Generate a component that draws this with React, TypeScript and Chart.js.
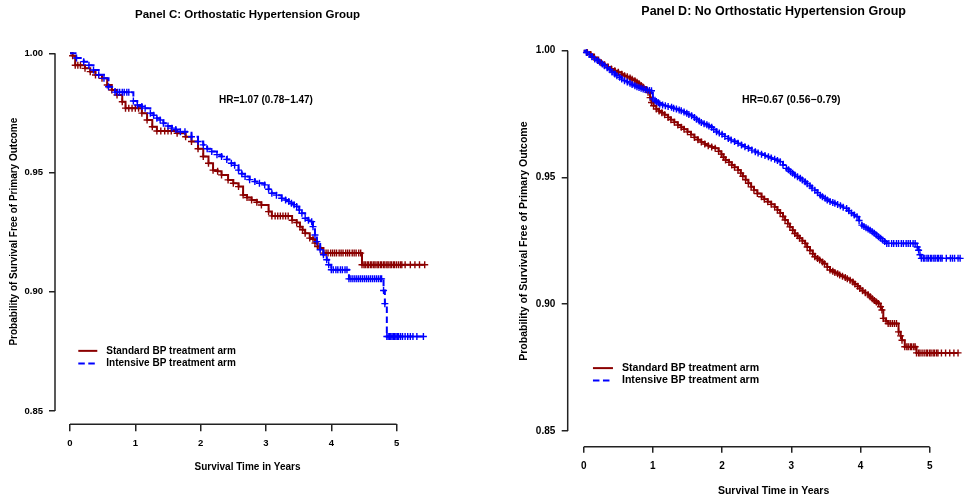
import React, { useEffect, useRef } from 'react';
import { Chart, registerables } from 'chart.js';

Chart.register(...registerables);

// ---------------- data ----------------
const xTickValues = [0, 1, 2, 3, 4, 5];
const yTickValues = [0.85, 0.9, 0.95, 1.0];

const seriesLabels = ['Standard BP treatment arm', 'Intensive BP treatment arm'];
const panelTitles = ['Panel C: Orthostatic Hypertension Group', 'Panel D: No Orthostatic Hypertension Group'];
const hrLabels = ['HR=1.07 (0.78\u22121.47)', 'HR=0.67 (0.56\u22120.79)'];
const xAxisTitle = 'Survival Time in Years';
const yAxisTitle = 'Probability of Survival Free of Primary Outcome';

// [time in years, survival probability]; each point carries a censoring mark
// Panel C – standard arm
const cStandard: [number, number][] = [
  [0, 1.0], [0.04, 0.999], [0.08, 0.995], [0.12, 0.995], [0.16, 0.995], [0.23, 0.9937], [0.31, 0.9923],
  [0.39, 0.9909], [0.49, 0.9895], [0.57, 0.9867], [0.64, 0.9846], [0.72, 0.9825], [0.8, 0.9797],
  [0.85, 0.977], [0.9, 0.977], [0.95, 0.977], [1.0, 0.977], [1.05, 0.977], [1.1, 0.9749], [1.18, 0.972],
  [1.26, 0.9692], [1.33, 0.9674], [1.39, 0.9674], [1.45, 0.9674], [1.5, 0.9674], [1.55, 0.9674],
  [1.64, 0.9665], [1.77, 0.965], [1.86, 0.963], [1.96, 0.96], [2.04, 0.9567], [2.12, 0.9539],
  [2.19, 0.951], [2.26, 0.9505], [2.32, 0.949], [2.42, 0.9469], [2.5, 0.9455], [2.58, 0.9441],
  [2.65, 0.9406], [2.71, 0.9395], [2.78, 0.9385], [2.86, 0.9375], [2.93, 0.9364], [3.04, 0.9336],
  [3.09, 0.9318], [3.14, 0.9318], [3.18, 0.9318], [3.22, 0.9318], [3.26, 0.9318], [3.3, 0.9318],
  [3.34, 0.9318], [3.4, 0.93], [3.47, 0.929], [3.52, 0.9273], [3.56, 0.926], [3.6, 0.9245],
  [3.67, 0.9225], [3.72, 0.922], [3.75, 0.9204], [3.79, 0.919], [3.83, 0.9183], [3.88, 0.9162],
  [3.92, 0.9162], [3.95, 0.9162], [3.99, 0.9162], [4.02, 0.9162], [4.05, 0.9162], [4.08, 0.9162],
  [4.12, 0.9162], [4.15, 0.9162], [4.18, 0.9162], [4.22, 0.9162], [4.25, 0.9162], [4.28, 0.9162],
  [4.32, 0.9162], [4.35, 0.9162], [4.38, 0.9162], [4.42, 0.9162], [4.45, 0.9162], [4.47, 0.9113],
  [4.5, 0.9113], [4.52, 0.9113], [4.55, 0.9113], [4.57, 0.9113], [4.6, 0.9113], [4.62, 0.9113],
  [4.65, 0.9113], [4.67, 0.9113], [4.7, 0.9113], [4.72, 0.9113], [4.75, 0.9113], [4.77, 0.9113],
  [4.8, 0.9113], [4.82, 0.9113], [4.85, 0.9113], [4.87, 0.9113], [4.9, 0.9113], [4.92, 0.9113],
  [4.95, 0.9113], [4.97, 0.9113], [5.0, 0.9113], [5.03, 0.9113], [5.06, 0.9113], [5.08, 0.9113],
  [5.13, 0.9113], [5.21, 0.9113], [5.28, 0.9113], [5.35, 0.9113], [5.43, 0.9113],
];

// Panel C – intensive arm
const cIntensive: [number, number][] = [
  [0, 1.0], [0.1, 0.998], [0.21, 0.9965], [0.29, 0.995], [0.36, 0.993], [0.44, 0.991], [0.52, 0.9895],
  [0.59, 0.986], [0.69, 0.9837], [0.73, 0.9837], [0.76, 0.9837], [0.8, 0.9837], [0.83, 0.9837],
  [0.87, 0.9837], [0.9, 0.9837], [0.97, 0.98], [1.03, 0.9783], [1.1, 0.9777], [1.15, 0.977],
  [1.23, 0.9749], [1.28, 0.974], [1.33, 0.9728], [1.38, 0.972], [1.43, 0.9707], [1.5, 0.9695],
  [1.56, 0.9686], [1.62, 0.968], [1.69, 0.9671], [1.76, 0.9671], [1.86, 0.965], [1.96, 0.963],
  [2.04, 0.9616], [2.1, 0.96], [2.17, 0.9588], [2.25, 0.9575], [2.32, 0.9567], [2.4, 0.9555],
  [2.47, 0.9539], [2.52, 0.953], [2.58, 0.951], [2.63, 0.9495], [2.68, 0.9483], [2.75, 0.947],
  [2.83, 0.9462], [2.9, 0.9455], [2.98, 0.9448], [3.04, 0.943], [3.09, 0.9413], [3.16, 0.9405],
  [3.24, 0.9392], [3.3, 0.9385], [3.35, 0.9378], [3.39, 0.9371], [3.43, 0.9365], [3.47, 0.9357],
  [3.51, 0.9343], [3.55, 0.9329], [3.6, 0.9308], [3.65, 0.93], [3.7, 0.9294], [3.72, 0.9273],
  [3.75, 0.9238], [3.78, 0.921], [3.83, 0.9176], [3.88, 0.9155], [3.93, 0.9134], [3.96, 0.9113],
  [4.0, 0.9092], [4.03, 0.9092], [4.07, 0.9092], [4.1, 0.9092], [4.14, 0.9092], [4.17, 0.9092],
  [4.21, 0.9092], [4.24, 0.9092], [4.27, 0.9054], [4.3, 0.9054], [4.33, 0.9054], [4.36, 0.9054],
  [4.39, 0.9054], [4.42, 0.9054], [4.45, 0.9054], [4.48, 0.9054], [4.51, 0.9054], [4.54, 0.9054],
  [4.57, 0.9054], [4.6, 0.9054], [4.63, 0.9054], [4.66, 0.9054], [4.69, 0.9054], [4.72, 0.9054],
  [4.75, 0.9054], [4.77, 0.9054], [4.8, 0.9005], [4.82, 0.895], [4.85, 0.8812], [4.87, 0.8812],
  [4.89, 0.8812], [4.91, 0.8812], [4.93, 0.8812], [4.95, 0.8812], [4.97, 0.8812], [4.99, 0.8812],
  [5.01, 0.8812], [5.03, 0.8812], [5.06, 0.8812], [5.09, 0.8812], [5.13, 0.8812], [5.17, 0.8812],
  [5.21, 0.8812], [5.25, 0.8812], [5.31, 0.8812], [5.41, 0.8812],
];

// Panel D – standard arm
const dStandard: [number, number][] = [
  [0, 1.0], [0.05, 0.9993], [0.1, 0.9985], [0.15, 0.9973], [0.21, 0.9961], [0.25, 0.9953], [0.3, 0.9945],
  [0.35, 0.9936], [0.4, 0.9928], [0.45, 0.9921], [0.5, 0.9915], [0.55, 0.9907], [0.59, 0.9901],
  [0.63, 0.9897], [0.67, 0.9892], [0.7, 0.9887], [0.74, 0.9882], [0.77, 0.9876], [0.8, 0.987],
  [0.83, 0.9863], [0.86, 0.9856], [0.9, 0.9846], [0.93, 0.9836], [0.96, 0.9815], [0.98, 0.9796],
  [1.01, 0.9783], [1.05, 0.977], [1.09, 0.9762], [1.13, 0.9755], [1.17, 0.9747], [1.22, 0.9737],
  [1.26, 0.9728], [1.31, 0.9718], [1.36, 0.9707], [1.41, 0.9698], [1.45, 0.969], [1.5, 0.968],
  [1.55, 0.9669], [1.6, 0.9658], [1.65, 0.9649], [1.7, 0.964], [1.75, 0.9632], [1.8, 0.9625],
  [1.85, 0.962], [1.9, 0.9615], [1.95, 0.9603], [1.99, 0.9592], [2.02, 0.958], [2.05, 0.9569],
  [2.1, 0.956], [2.14, 0.9549], [2.18, 0.954], [2.23, 0.9529], [2.27, 0.9517], [2.3, 0.9505],
  [2.34, 0.9491], [2.38, 0.9477], [2.42, 0.9463], [2.46, 0.945], [2.51, 0.9437], [2.57, 0.9424],
  [2.61, 0.9414], [2.66, 0.9404], [2.71, 0.9394], [2.76, 0.9384], [2.8, 0.9372], [2.84, 0.936],
  [2.88, 0.9346], [2.91, 0.9332], [2.95, 0.9318], [2.98, 0.9305], [3.02, 0.9292], [3.05, 0.9279],
  [3.09, 0.927], [3.12, 0.926], [3.16, 0.925], [3.2, 0.924], [3.23, 0.9226], [3.27, 0.9212],
  [3.31, 0.9199], [3.34, 0.9187], [3.38, 0.918], [3.41, 0.9174], [3.45, 0.9167], [3.48, 0.916],
  [3.52, 0.9147], [3.56, 0.9135], [3.6, 0.913], [3.63, 0.9125], [3.67, 0.912], [3.7, 0.9115],
  [3.74, 0.911], [3.78, 0.9105], [3.81, 0.91], [3.85, 0.9095], [3.89, 0.9088], [3.92, 0.908],
  [3.96, 0.9071], [3.99, 0.9062], [4.03, 0.9053], [4.07, 0.9045], [4.11, 0.9037], [4.14, 0.9029],
  [4.17, 0.9022], [4.2, 0.9015], [4.23, 0.9009], [4.26, 0.9003], [4.29, 0.899], [4.31, 0.8977],
  [4.33, 0.8944], [4.37, 0.8934], [4.4, 0.8924], [4.43, 0.8924], [4.46, 0.8924], [4.49, 0.8924],
  [4.52, 0.8924], [4.55, 0.8891], [4.58, 0.8875], [4.6, 0.8858], [4.64, 0.8832], [4.67, 0.8832],
  [4.69, 0.8832], [4.72, 0.8832], [4.74, 0.8832], [4.77, 0.8832], [4.79, 0.8832], [4.81, 0.8808],
  [4.84, 0.8808], [4.86, 0.8808], [4.89, 0.8808], [4.92, 0.8808], [4.95, 0.8808], [4.97, 0.8808],
  [5.0, 0.8808], [5.02, 0.8808], [5.05, 0.8808], [5.07, 0.8808], [5.1, 0.8808], [5.12, 0.8808],
  [5.17, 0.8808], [5.23, 0.8808], [5.29, 0.8808], [5.35, 0.8808], [5.41, 0.8808],
];

// Panel D – intensive arm
const dIntensive: [number, number][] = [
  [0, 1.0], [0.04, 0.9993], [0.08, 0.9985], [0.12, 0.9976], [0.16, 0.9967], [0.2, 0.9961], [0.23, 0.9955],
  [0.27, 0.9948], [0.3, 0.9941], [0.34, 0.9933], [0.38, 0.9925], [0.41, 0.9916], [0.45, 0.9908],
  [0.48, 0.9901], [0.52, 0.9895], [0.55, 0.9888], [0.59, 0.9882], [0.63, 0.9877], [0.67, 0.9872],
  [0.7, 0.9867], [0.74, 0.9862], [0.77, 0.9858], [0.8, 0.9855], [0.83, 0.9852], [0.86, 0.9849],
  [0.89, 0.9847], [0.92, 0.9845], [0.95, 0.9843], [0.98, 0.9842], [1.0, 0.981], [1.03, 0.9805],
  [1.05, 0.98], [1.08, 0.9795], [1.1, 0.979], [1.14, 0.9786], [1.18, 0.9783], [1.22, 0.978],
  [1.27, 0.9777], [1.3, 0.9773], [1.34, 0.977], [1.38, 0.9766], [1.41, 0.9763], [1.45, 0.9758],
  [1.49, 0.9753], [1.52, 0.9748], [1.56, 0.9743], [1.6, 0.9737], [1.63, 0.973], [1.67, 0.9723],
  [1.7, 0.9717], [1.74, 0.9712], [1.78, 0.9708], [1.81, 0.9703], [1.85, 0.9698], [1.88, 0.9689],
  [1.92, 0.968], [1.96, 0.9675], [2.0, 0.967], [2.04, 0.9662], [2.09, 0.9654], [2.13, 0.9648],
  [2.18, 0.9642], [2.23, 0.9635], [2.28, 0.9628], [2.33, 0.9621], [2.38, 0.9615], [2.43, 0.9608],
  [2.48, 0.9601], [2.52, 0.9597], [2.57, 0.9592], [2.62, 0.9587], [2.67, 0.9582], [2.71, 0.9577],
  [2.76, 0.9572], [2.8, 0.9567], [2.84, 0.9562], [2.88, 0.9549], [2.93, 0.9536], [2.96, 0.953],
  [2.99, 0.9523], [3.02, 0.9517], [3.05, 0.951], [3.09, 0.9503], [3.13, 0.9497], [3.16, 0.949],
  [3.2, 0.9483], [3.23, 0.9475], [3.27, 0.9467], [3.3, 0.9458], [3.34, 0.945], [3.38, 0.944],
  [3.42, 0.943], [3.45, 0.9424], [3.49, 0.9418], [3.52, 0.9411], [3.56, 0.9405], [3.6, 0.9401],
  [3.63, 0.9398], [3.67, 0.9393], [3.71, 0.9388], [3.75, 0.9383], [3.8, 0.9378], [3.83, 0.9369],
  [3.87, 0.936], [3.91, 0.9352], [3.95, 0.9345], [3.98, 0.933], [4.02, 0.9312], [4.05, 0.9307],
  [4.08, 0.9302], [4.11, 0.9297], [4.14, 0.9292], [4.17, 0.9286], [4.2, 0.928], [4.23, 0.9273],
  [4.26, 0.9266], [4.29, 0.926], [4.32, 0.9253], [4.35, 0.9247], [4.38, 0.924], [4.41, 0.924],
  [4.45, 0.924], [4.48, 0.924], [4.52, 0.924], [4.55, 0.924], [4.59, 0.924], [4.62, 0.924],
  [4.66, 0.924], [4.69, 0.924], [4.72, 0.924], [4.76, 0.924], [4.79, 0.924], [4.82, 0.9226],
  [4.84, 0.9213], [4.86, 0.9195], [4.88, 0.9181], [4.91, 0.9181], [4.93, 0.9181], [4.96, 0.9181],
  [4.98, 0.9181], [5.01, 0.9181], [5.03, 0.9181], [5.06, 0.9181], [5.08, 0.9181], [5.11, 0.9181],
  [5.13, 0.9181], [5.16, 0.9181], [5.18, 0.9181], [5.24, 0.9181], [5.3, 0.9181], [5.33, 0.9181],
  [5.36, 0.9181], [5.41, 0.9181], [5.44, 0.9181],
];

// ---------------- styles / layout ----------------
const FONT = '"Liberation Sans", Arial, Helvetica, sans-serif';
const STANDARD_COLOR = '#8B0000';
const INTENSIVE_COLOR = '#0000FF';
const DASH = [6.5, 3.5];
const AXIS_COLOR = '#222222';

type Layout = {
  left: number; width: number; height: number;
  yScaleWidth: number; xScaleHeight: number; padRight: number;
  xMin: number; xMax: number; yMin: number; yMax: number;
  titleSize: number; titlePadTop: number; titlePadBottom: number;
  tickSize: number; xTickLen: number; xTickPad: number; yTickLen: number; yTickPad: number;
  axisTitleSize: number; xTitlePadBottom: number; yTitlePadTop: number;
  legendSize: number; hrSize: number;
  hrX: number; hrY: number;
  legendX: number; legendY: number; legendGap: number; legendLine: number; legendTextGap: number;
};

const layoutC: Layout = {
  left: 0, width: 487, height: 502,
  yScaleWidth: 55, xScaleHeight: 77.7, padRight: 47,
  xMin: -0.2296, xMax: 5.664, yMin: 0.8444, yMax: 1.006,
  titleSize: 11.5, titlePadTop: 8.1, titlePadBottom: 17.1,
  tickSize: 9.5, xTickLen: 7, xTickPad: 6, yTickLen: 6, yTickPad: 6,
  axisTitleSize: 10, xTitlePadBottom: 29, yTitlePadTop: 8.5,
  legendSize: 10, hrSize: 10,
  hrX: 3.0, hrY: 0.9804,
  legendX: 0.127, legendY: 0.8752, legendGap: 12.7, legendLine: 19, legendTextGap: 9,
};

const layoutD: Layout = {
  left: 487, width: 510, height: 502,
  yScaleWidth: 80.7, xScaleHeight: 55.3, padRight: 17.5,
  xMin: -0.231, xMax: 5.72, yMin: 0.8438, yMax: 1.006,
  titleSize: 12.5, titlePadTop: 4, titlePadBottom: 16.5,
  tickSize: 10, xTickLen: 6, xTickPad: 7.3, yTickLen: 6, yTickPad: 6.4,
  axisTitleSize: 10.5, xTitlePadBottom: 5, yTitlePadTop: 30.7,
  legendSize: 10.6, hrSize: 10.5,
  hrX: 3.0, hrY: 0.9805,
  legendX: 0.134, legendY: 0.8748, legendGap: 12.3, legendLine: 20, legendTextGap: 9,
};

function toPoints(pairs: [number, number][]) {
  return pairs.map(([t, s]) => ({ x: t, y: s }));
}

const decorPlugin = {
  id: 'kmDecor',
  afterDraw(chart: any, _args: any, opts: any) {
    const L: Layout = opts.layout;
    const { ctx } = chart;
    const xs = chart.scales.x;
    const ys = chart.scales.y;
    ctx.save();
    // R-style axis lines, spanning first to last tick
    ctx.strokeStyle = AXIS_COLOR;
    ctx.lineWidth = 1.5;
    ctx.setLineDash([]);
    const xa = xs.getPixelForValue(xTickValues[0]);
    const xb = xs.getPixelForValue(xTickValues[xTickValues.length - 1]);
    const yLine = chart.chartArea.bottom;
    ctx.beginPath();
    ctx.moveTo(xa, yLine);
    ctx.lineTo(xb, yLine);
    ctx.stroke();
    const ya = ys.getPixelForValue(yTickValues[0]);
    const yb = ys.getPixelForValue(yTickValues[yTickValues.length - 1]);
    const xLine = chart.chartArea.left;
    ctx.beginPath();
    ctx.moveTo(xLine, ya);
    ctx.lineTo(xLine, yb);
    ctx.stroke();

    // hazard ratio annotation
    ctx.fillStyle = '#000';
    ctx.font = `bold ${L.hrSize}px ${FONT}`;
    ctx.textAlign = 'center';
    ctx.textBaseline = 'middle';
    ctx.fillText(opts.hr, xs.getPixelForValue(L.hrX), ys.getPixelForValue(L.hrY));

    // legend inside plot
    const lx = xs.getPixelForValue(L.legendX);
    const ly0 = ys.getPixelForValue(L.legendY);
    chart.data.datasets.forEach((ds: any, i: number) => {
      const ly = ly0 + i * L.legendGap;
      ctx.strokeStyle = ds.borderColor;
      ctx.lineWidth = 2;
      ctx.setLineDash(ds.borderDash || []);
      ctx.beginPath();
      ctx.moveTo(lx, ly);
      ctx.lineTo(lx + L.legendLine, ly);
      ctx.stroke();
      ctx.setLineDash([]);
      ctx.fillStyle = '#000';
      ctx.font = `bold ${L.legendSize}px ${FONT}`;
      ctx.textAlign = 'left';
      ctx.textBaseline = 'middle';
      ctx.fillText(ds.label, lx + L.legendLine + L.legendTextGap, ly);
    });
    ctx.restore();
  },
};

type PanelProps = {
  layout: Layout;
  title: string;
  hr: string;
  standard: { x: number; y: number }[];
  intensive: { x: number; y: number }[];
};

function KMPanel({ layout: L, title, hr, standard, intensive }: PanelProps) {
  const ref = useRef<HTMLCanvasElement | null>(null);

  useEffect(() => {
    if (!ref.current) return;
    const pointRadius = (c: any) => (c.dataIndex === 0 ? 0 : 3.5);
    const chart = new Chart(ref.current, {
      type: 'line',
      data: {
        datasets: [
          {
            label: seriesLabels[0],
            data: standard,
            borderColor: STANDARD_COLOR,
            backgroundColor: STANDARD_COLOR,
            borderWidth: 2,
            stepped: 'before',
            fill: false,
            pointStyle: 'cross',
            pointRadius,
            pointBorderWidth: 1.4,
            pointBorderColor: STANDARD_COLOR,
            order: 1,
          },
          {
            label: seriesLabels[1],
            data: intensive,
            borderColor: INTENSIVE_COLOR,
            backgroundColor: INTENSIVE_COLOR,
            borderWidth: 2,
            borderDash: DASH,
            stepped: 'before',
            fill: false,
            pointStyle: 'cross',
            pointRadius,
            pointBorderWidth: 1.4,
            pointBorderColor: INTENSIVE_COLOR,
            order: 0,
          },
        ],
      } as any,
      options: {
        responsive: false,
        animation: false,
        devicePixelRatio: 1,
        layout: { padding: { left: 0, top: 0, right: L.padRight, bottom: 0 } },
        plugins: {
          legend: { display: false },
          tooltip: { enabled: false },
          title: {
            display: true,
            text: title,
            fullSize: false,
            color: '#000',
            font: { family: FONT, size: L.titleSize, weight: 'bold', lineHeight: 1.2 },
            padding: { top: L.titlePadTop, bottom: L.titlePadBottom },
          },
          kmDecor: { layout: L, hr },
        } as any,
        scales: {
          x: {
            type: 'linear',
            position: 'bottom',
            min: L.xMin,
            max: L.xMax,
            bounds: 'data',
            afterBuildTicks: (axis: any) => {
              axis.ticks = xTickValues.map((v) => ({ value: v }));
            },
            afterFit: (axis: any) => {
              axis.height = L.xScaleHeight;
            },
            border: { display: false },
            grid: {
              display: true,
              drawOnChartArea: false,
              drawTicks: true,
              tickLength: L.xTickLen,
              color: AXIS_COLOR,
              lineWidth: 1.5,
            },
            ticks: {
              autoSkip: false,
              maxRotation: 0,
              padding: L.xTickPad,
              color: '#000',
              font: { family: FONT, size: L.tickSize, weight: 'bold', lineHeight: 1.2 },
              callback: (v: any) => String(v),
            },
            title: {
              display: true,
              text: xAxisTitle,
              color: '#000',
              font: { family: FONT, size: L.axisTitleSize, weight: 'bold', lineHeight: 1.2 },
              padding: { top: 0, bottom: L.xTitlePadBottom },
            },
          },
          y: {
            type: 'linear',
            position: 'left',
            min: L.yMin,
            max: L.yMax,
            bounds: 'data',
            afterBuildTicks: (axis: any) => {
              axis.ticks = yTickValues.map((v) => ({ value: v }));
            },
            afterFit: (axis: any) => {
              axis.width = L.yScaleWidth;
            },
            border: { display: false },
            grid: {
              display: true,
              drawOnChartArea: false,
              drawTicks: true,
              tickLength: L.yTickLen,
              color: AXIS_COLOR,
              lineWidth: 1.5,
            },
            ticks: {
              autoSkip: false,
              padding: L.yTickPad,
              color: '#000',
              font: { family: FONT, size: L.tickSize, weight: 'bold', lineHeight: 1.2 },
              callback: (v: any) => Number(v).toFixed(2),
            },
            title: {
              display: true,
              text: yAxisTitle,
              color: '#000',
              font: { family: FONT, size: L.axisTitleSize, weight: 'bold', lineHeight: 1.2 },
              padding: { top: L.yTitlePadTop, bottom: 0 },
            },
          },
        },
      } as any,
      plugins: [decorPlugin],
    });
    return () => chart.destroy();
  }, [L, title, hr, standard, intensive]);

  return (
    <canvas
      ref={ref}
      width={L.width}
      height={L.height}
      style={{ position: 'absolute', left: L.left, top: 0, width: L.width, height: L.height, display: 'block' }}
    />
  );
}

const cStandardPts = toPoints(cStandard);
const cIntensivePts = toPoints(cIntensive);
const dStandardPts = toPoints(dStandard);
const dIntensivePts = toPoints(dIntensive);

export default function App() {
  return (
    <div
      style={{
        position: 'fixed',
        left: 0,
        top: 0,
        width: 967,
        height: 502,
        overflow: 'hidden',
        background: '#ffffff',
      }}
    >
      <KMPanel layout={layoutC} title={panelTitles[0]} hr={hrLabels[0]} standard={cStandardPts} intensive={cIntensivePts} />
      <KMPanel layout={layoutD} title={panelTitles[1]} hr={hrLabels[1]} standard={dStandardPts} intensive={dIntensivePts} />
    </div>
  );
}
